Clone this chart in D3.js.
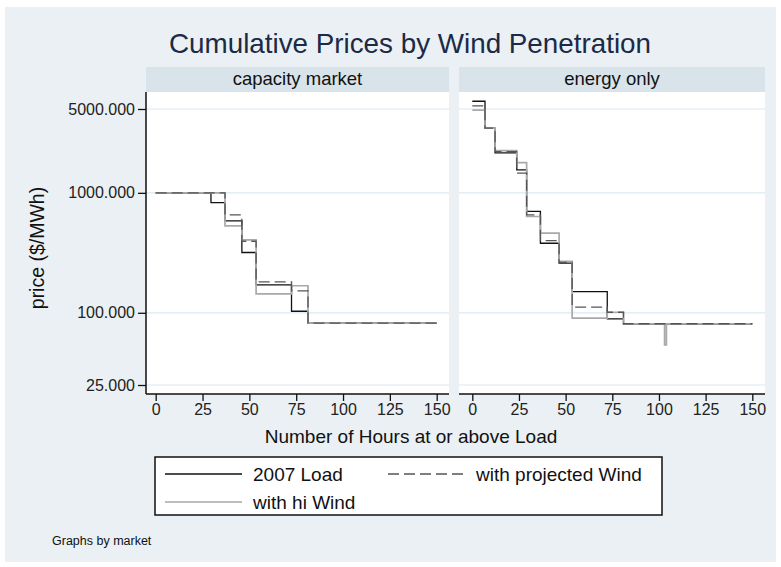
<!DOCTYPE html>
<html>
<head>
<meta charset="utf-8">
<script src="https://cdn.jsdelivr.net/npm/d3@7"></script>
<style>
  body { margin: 0; background: #fff; }
  text { font-family: "Liberation Sans", Arial, sans-serif; }
</style>
</head>
<body>
<svg id="chart" width="781" height="567"></svg>
<script>
// panels and series
const panels = ['capacity market', 'energy only'];
const seriesNames = ['2007 Load', 'with projected Wind', 'with hi Wind'];
const xTicks = [0, 25, 50, 75, 100, 125, 150];
const yTicks = [25, 100, 1000, 5000];

// capacity market: hour where each step starts, price ($/MWh) on that step
const capHours = [0, 29.5, 37, 46, 53.6, 72.5, 81.3, 150];
const capLoad2007 = [1000, 830, 584, 318, 171, 103, 82, 82];
const capProjWind = [1000, 1000, 656, 395, 181, 152, 82, 82];
const capHiWind = [1000, 1000, 531, 406, 144, 168, 82, 82];

// energy only
const eoHours = [0, 6.8, 12.2, 23.8, 29.1, 36.5, 46.5, 53.5, 72.3, 81, 103, 104, 150];
const eoLoad2007 = [5800, 3460, 2150, 1553, 700, 380, 259, 150, 89, 81, 81, 81, 81];
const eoProjWind = [5300, 3460, 2200, 1459, 655, 400, 263, 111.5, 101, 81, 81, 81, 81];
const eoHiWind = [4900, 3460, 2250, 1788, 635, 461, 268, 90.3, 101, 81, 54, 81, 81];

const panelData = [
  { hours: capHours, series: [capLoad2007, capProjWind, capHiWind] },
  { hours: eoHours, series: [eoLoad2007, eoProjWind, eoHiWind] }
];

const styles = [
  { stroke: '#111', width: 1.3, dash: null },
  { stroke: '#555', width: 1.3, dash: '11,5' },
  { stroke: '#a9a9a9', width: 1.7, dash: null }
];
const drawOrder = [0, 2, 1];

const svg = d3.select('#chart');

svg.append('rect')
  .attr('x', 5).attr('y', 7)
  .attr('width', 771).attr('height', 555)
  .attr('fill', '#eaf0f3');

svg.append('text')
  .attr('x', 410).attr('y', 53)
  .attr('text-anchor', 'middle')
  .attr('font-size', 27.8)
  .attr('fill', '#1b2a47')
  .text('Cumulative Prices by Wind Penetration');

const boxes = [{ x0: 146, x1: 449 }, { x0: 459, x1: 765 }];
const xRanges = [[155.7, 436.7], [472.3, 752.3]];
const stripTop = 67, plotTop = 92, plotBot = 394;

const y = d3.scaleLog().domain([25, 5000]).range([385, 109]);

panels.forEach((name, i) => {
  const box = boxes[i];
  const x = d3.scaleLinear().domain([0, 150]).range(xRanges[i]);
  const g = svg.append('g').attr('class', 'panel');

  // strip
  g.append('rect')
    .attr('x', box.x0).attr('y', stripTop)
    .attr('width', box.x1 - box.x0).attr('height', plotTop - stripTop)
    .attr('fill', '#d8e3ea');
  g.append('text')
    .attr('x', (box.x0 + box.x1) / 2).attr('y', 85)
    .attr('text-anchor', 'middle')
    .attr('font-size', 18.5)
    .attr('fill', '#111')
    .text(name);

  // plot region
  g.append('rect')
    .attr('x', box.x0).attr('y', plotTop)
    .attr('width', box.x1 - box.x0).attr('height', plotBot - plotTop)
    .attr('fill', '#fff');

  g.selectAll('.grid')
    .data(yTicks)
    .enter()
    .append('line')
    .attr('class', 'grid')
    .attr('x1', box.x0).attr('x2', box.x1)
    .attr('y1', (d) => y(d)).attr('y2', (d) => y(d))
    .attr('stroke', '#dbe8ef')
    .attr('stroke-width', 1.2);

  // step lines
  const line = d3.line()
    .x((d) => x(d[0]))
    .y((d) => y(d[1]))
    .curve(d3.curveStepAfter);
  const pd = panelData[i];
  drawOrder.forEach((s) => {
    const pts = pd.hours.map((h, k) => [h, pd.series[s][k]]);
    g.append('path')
      .datum(pts)
      .attr('d', line)
      .attr('fill', 'none')
      .attr('stroke', styles[s].stroke)
      .attr('stroke-width', styles[s].width)
      .attr('stroke-dasharray', styles[s].dash);
  });

  // x axis
  const xAxis = g.append('g')
    .attr('transform', `translate(0,${plotBot})`)
    .call(d3.axisBottom(x).tickValues(xTicks).tickSize(7).tickPadding(3));
  xAxis.select('.domain').remove();
  xAxis.selectAll('line').attr('stroke', '#111').attr('stroke-width', 1.3);
  xAxis.selectAll('text').attr('font-size', 16).attr('fill', '#222')
    .attr('font-family', '"Liberation Sans", Arial, sans-serif');
  g.append('line')
    .attr('x1', box.x0).attr('x2', box.x1)
    .attr('y1', plotBot).attr('y2', plotBot)
    .attr('stroke', '#111').attr('stroke-width', 1.5);

  if (i === 0) {
    const yAxis = g.append('g')
      .attr('transform', `translate(${box.x0},0)`)
      .call(d3.axisLeft(y).tickValues(yTicks).tickFormat(d3.format('.3f')).tickSize(8).tickPadding(3));
    yAxis.select('.domain').remove();
    yAxis.selectAll('line').attr('stroke', '#111').attr('stroke-width', 1.3);
    yAxis.selectAll('text').attr('font-size', 16).attr('fill', '#222')
      .attr('font-family', '"Liberation Sans", Arial, sans-serif');
    g.append('line')
      .attr('x1', box.x0).attr('x2', box.x0)
      .attr('y1', plotTop).attr('y2', plotBot)
      .attr('stroke', '#111').attr('stroke-width', 1.5);
  }
});

// axis titles
svg.append('text')
  .attr('x', 411).attr('y', 443)
  .attr('text-anchor', 'middle')
  .attr('font-size', 19)
  .attr('fill', '#111')
  .text('Number of Hours at or above Load');

svg.append('text')
  .attr('transform', 'translate(44,248) rotate(-90)')
  .attr('text-anchor', 'middle')
  .attr('font-size', 19.5)
  .attr('fill', '#111')
  .text('price ($/MWh)');

// legend
const legend = svg.append('g').attr('class', 'legend');
legend.append('rect')
  .attr('x', 155).attr('y', 457)
  .attr('width', 507).attr('height', 58)
  .attr('fill', '#fff')
  .attr('stroke', '#111').attr('stroke-width', 1.5);

const legendPos = [
  { x: 165, y: 474 },
  { x: 388, y: 474 },
  { x: 165, y: 502 }
];
seriesNames.forEach((name, s) => {
  const p = legendPos[s];
  legend.append('line')
    .attr('x1', p.x).attr('x2', p.x + 77)
    .attr('y1', p.y).attr('y2', p.y)
    .attr('stroke', styles[s].stroke)
    .attr('stroke-width', styles[s].width)
    .attr('stroke-dasharray', styles[s].dash);
  legend.append('text')
    .attr('x', p.x + 88).attr('y', p.y + 7)
    .attr('font-size', 19)
    .attr('fill', '#111')
    .text(name);
});

svg.append('text')
  .attr('x', 52).attr('y', 545)
  .attr('font-size', 12.5)
  .attr('fill', '#111')
  .text('Graphs by market');
</script>
</body>
</html>
